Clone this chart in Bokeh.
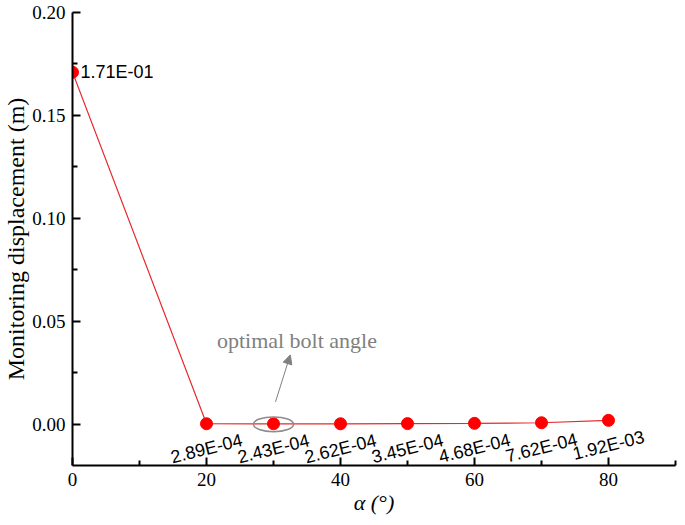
from bokeh.plotting import figure
from bokeh.models import (ColumnDataSource, FixedTicker, PrintfTickFormatter, Label,
                          Arrow, NormalHead, Range1d)
from bokeh.core.properties import value
from bokeh.embed import file_html
from bokeh.resources import INLINE

# data
angles = [0, 20, 30, 40, 50, 60, 70, 80]
displacement = [1.71e-01, 2.89e-04, 2.43e-04, 2.62e-04, 3.45e-04, 4.68e-04, 7.62e-04, 1.92e-03]
labels = [f"{v:.2E}" for v in displacement]
x_ticks = [0, 20, 40, 60, 80]
x_minor = [10, 30, 50, 70, 90]
y_ticks = [0.00, 0.05, 0.10, 0.15, 0.20]
y_minor = [0.025, 0.075, 0.125, 0.175]

p = figure(width=677, height=517, output_backend="svg", toolbar_location=None,
           x_range=Range1d(0, 90), y_range=Range1d(-0.02, 0.20),
           min_border_left=66, min_border_right=2, min_border_top=12, min_border_bottom=48)
p.outline_line_color = None
p.grid.visible = False
p.background_fill_color = "white"

for ax in (p.xaxis[0], p.yaxis[0]):
    ax.axis_line_width = 2
    ax.axis_line_color = "black"
    ax.major_tick_in = 8
    ax.major_tick_out = 0
    ax.minor_tick_in = 5
    ax.minor_tick_out = 0
    ax.major_tick_line_width = 2
    ax.minor_tick_line_width = 2
    ax.major_label_text_font = "Liberation Serif"
    ax.major_label_text_font_size = "19px"
    ax.major_label_text_color = "black"

p.xaxis.ticker = FixedTicker(ticks=x_ticks, minor_ticks=x_minor)
p.yaxis.ticker = FixedTicker(ticks=y_ticks, minor_ticks=y_minor)
p.yaxis.formatter = PrintfTickFormatter(format="%.2f")
p.xaxis.major_label_standoff = 7
p.yaxis.major_label_standoff = 7

p.yaxis.axis_label = "Monitoring displacement (m)"
p.yaxis.axis_label_text_font = "Liberation Serif"
p.yaxis.axis_label_text_font_style = "normal"
p.yaxis.axis_label_text_font_size = "24px"
p.yaxis.axis_label_text_color = "black"
p.yaxis.axis_label_standoff = 0

p.xaxis.axis_label = "α (°)"
p.xaxis.axis_label_text_font = "Liberation Serif"
p.xaxis.axis_label_text_font_style = "italic"
p.xaxis.axis_label_text_font_size = "22px"
p.xaxis.axis_label_text_color = "black"
p.xaxis.axis_label_standoff = 1

src = ColumnDataSource(dict(x=angles, y=displacement, t=labels))
p.line("x", "y", source=src, line_color="#e8282b", line_width=1.2)
p.scatter("x", "y", source=src, size=12, fill_color="#ff0000", line_color="#ff0000")

first = ColumnDataSource(dict(x=angles[:1], y=displacement[:1], t=labels[:1]))
rest = ColumnDataSource(dict(x=angles[1:], y=displacement[1:], t=labels[1:]))
p.text("x", "y", text="t", source=first, x_offset=8, text_align="left",
       text_baseline="middle", text_font=value("Liberation Sans"),
       text_font_size="18px", text_color="black")
p.text("x", "y", text="t", source=rest, y_offset=25, angle=0.245, text_align="center",
       text_baseline="middle", text_font=value("Liberation Sans"),
       text_font_size="18px", text_color="black")

# annotation
p.ellipse(x=[30], y=[0], width=6, height=0.0072, fill_color=None,
          line_color="#8c8c8c", line_width=1.5)
p.add_layout(Arrow(end=NormalHead(size=9, fill_color="#808080", line_color="#808080"),
                   x_start=30.3, y_start=0.0109, x_end=32.5, y_end=0.0337,
                   line_color="#808080", line_width=1))
p.add_layout(Label(x=33.5, y=0.0409, text="optimal bolt angle", text_align="center",
                   text_baseline="middle", text_font="Liberation Serif",
                   text_font_size="22px", text_color="#808080"))

open("out.html", "w").write(file_html(p, INLINE))
